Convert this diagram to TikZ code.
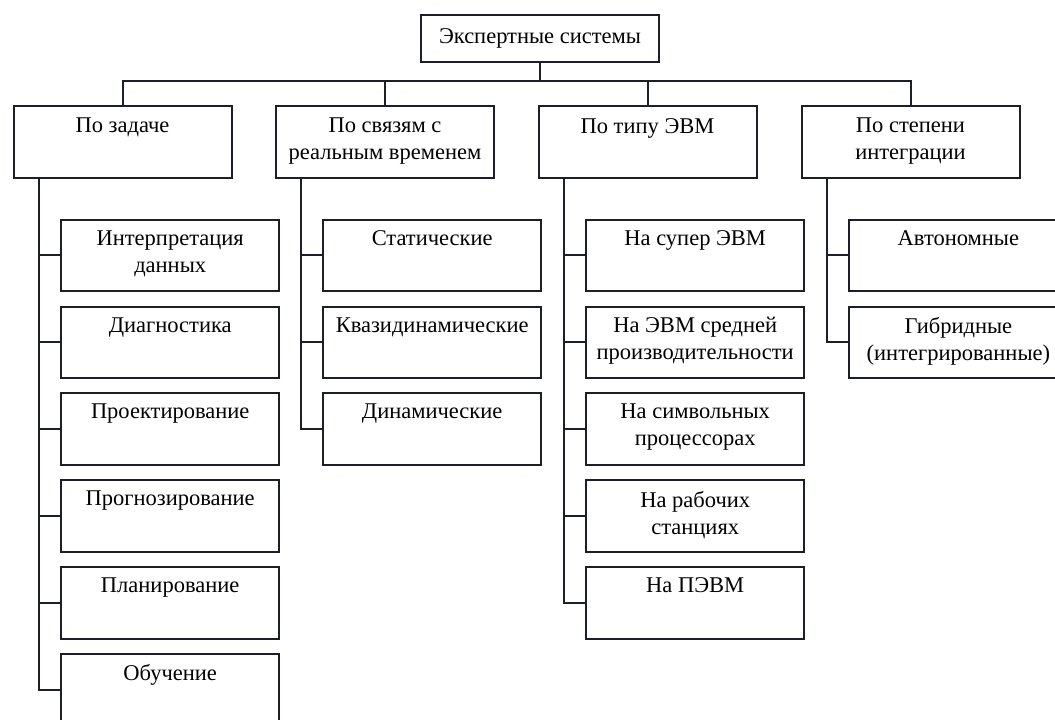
\documentclass[tikz,border=0pt]{standalone}
\usepackage{fontspec}
\setmainfont{Liberation Serif}
\definecolor{lineC}{RGB}{28,30,42}
\begin{document}
\begin{tikzpicture}[x=1pt,y=-1pt,
  box/.style={draw=lineC, line width=2pt, inner sep=0pt, anchor=north west,
              minimum width=218pt, minimum height=71.5pt},
  lbl/.style={anchor=north, inner sep=0pt, align=center,
              font=\fontsize{22.5}{27}\selectfont, yshift=-11.5pt},
  conn/.style={draw=lineC, line width=2pt}]
\clip (0,0) rectangle (1055,720);
\fill[white] (0,0) rectangle (1055,720);

% root
\node[box, minimum width=238pt, minimum height=46.5pt] (root) at (420,14) {};
\node[inner sep=0pt, font=\fontsize{22.5}{27}\selectfont] (rootT) at (root.center) {Экспертные системы};

% level 1
\node[box] (A) at (12.5,105) {};
\node[box] (B) at (275,105) {};
\node[box] (C) at (537.5,105) {};
\node[box] (D) at (800.5,105) {};
\node[lbl, yshift=-1.5pt] (AT) at (A.north) {По задаче};
\node[lbl, yshift=-1.5pt] (BT) at (B.north) {По связям с\\реальным временем};
\node[lbl, yshift=-1.5pt] (CT) at (C.north) {По типу ЭВМ};
\node[lbl, yshift=-1.5pt] (DT) at (D.north) {По степени\\интеграции};

\coordinate (bus) at (539,81);
\draw[conn] (root.south) -- (root.south |- bus);
\draw[conn] (A.north) -- (A.north |- bus) -- (D.north |- bus) -- (D.north);
\draw[conn] (B.north) -- (B.north |- bus);
\draw[conn] (C.north) -- (C.north |- bus);

% column A
\node[box] (A1) at (60.2,218.7) {};
\node[box] (A2) at (60.2,305.6) {};
\node[box] (A3) at (60.2,392.4) {};
\node[box] (A4) at (60.2,479.3) {};
\node[box] (A5) at (60.2,566.1) {};
\node[box] (A6) at (60.2,653.0) {};
\node[lbl] (A1T) at (A1.north) {Интерпретация\\данных};
\node[lbl] (A2T) at (A2.north) {Диагностика};
\node[lbl] (A3T) at (A3.north) {Проектирование};
\node[lbl] (A4T) at (A4.north) {Прогнозирование};
\node[lbl] (A5T) at (A5.north) {Планирование};
\node[lbl] (A6T) at (A6.north) {Обучение};
\coordinate (tA) at (38.6,176.5);
\draw[conn] (tA) |- (A6.west);
\foreach \n in {A1,A2,A3,A4,A5} \draw[conn] (\n.west) -- (\n.west -| tA);

% column B
\node[box] (B1) at (322.2,218.7) {};
\node[box] (B2) at (322.2,305.6) {};
\node[box] (B3) at (322.2,392.4) {};
\node[lbl] (B1T) at (B1.north) {Статические};
\node[lbl] (B2T) at (B2.north) {Квазидинамические};
\node[lbl] (B3T) at (B3.north) {Динамические};
\coordinate (tB) at (301,176.5);
\draw[conn] (tB) |- (B3.west);
\foreach \n in {B1,B2} \draw[conn] (\n.west) -- (\n.west -| tB);

% column C
\node[box] (C1) at (585.2,218.7) {};
\node[box] (C2) at (585.2,305.6) {};
\node[box] (C3) at (585.2,392.4) {};
\node[box] (C4) at (585.2,479.3) {};
\node[box] (C5) at (585.2,566.1) {};
\node[lbl] (C1T) at (C1.north) {На супер ЭВМ};
\node[lbl] (C2T) at (C2.north) {На ЭВМ средней\\производительности};
\node[lbl] (C3T) at (C3.north) {На символьных\\процессорах};
\node[lbl] (C4T) at (C4.north) {На рабочих\\станциях};
\node[lbl] (C5T) at (C5.north) {На ПЭВМ};
\coordinate (tC) at (564,176.5);
\draw[conn] (tC) |- (C5.west);
\foreach \n in {C1,C2,C3,C4} \draw[conn] (\n.west) -- (\n.west -| tC);

% column D
\node[box] (D1) at (848.4,218.7) {};
\node[box] (D2) at (848.4,305.6) {};
\node[lbl] (D1T) at (D1.north) {Автономные};
\node[lbl] (D2T) at (D2.north) {Гибридные\\(интегрированные)};
\coordinate (tD) at (827,176.5);
\draw[conn] (tD) |- (D2.west);
\draw[conn] (D1.west) -- (D1.west -| tD);
\end{tikzpicture}
\end{document}
